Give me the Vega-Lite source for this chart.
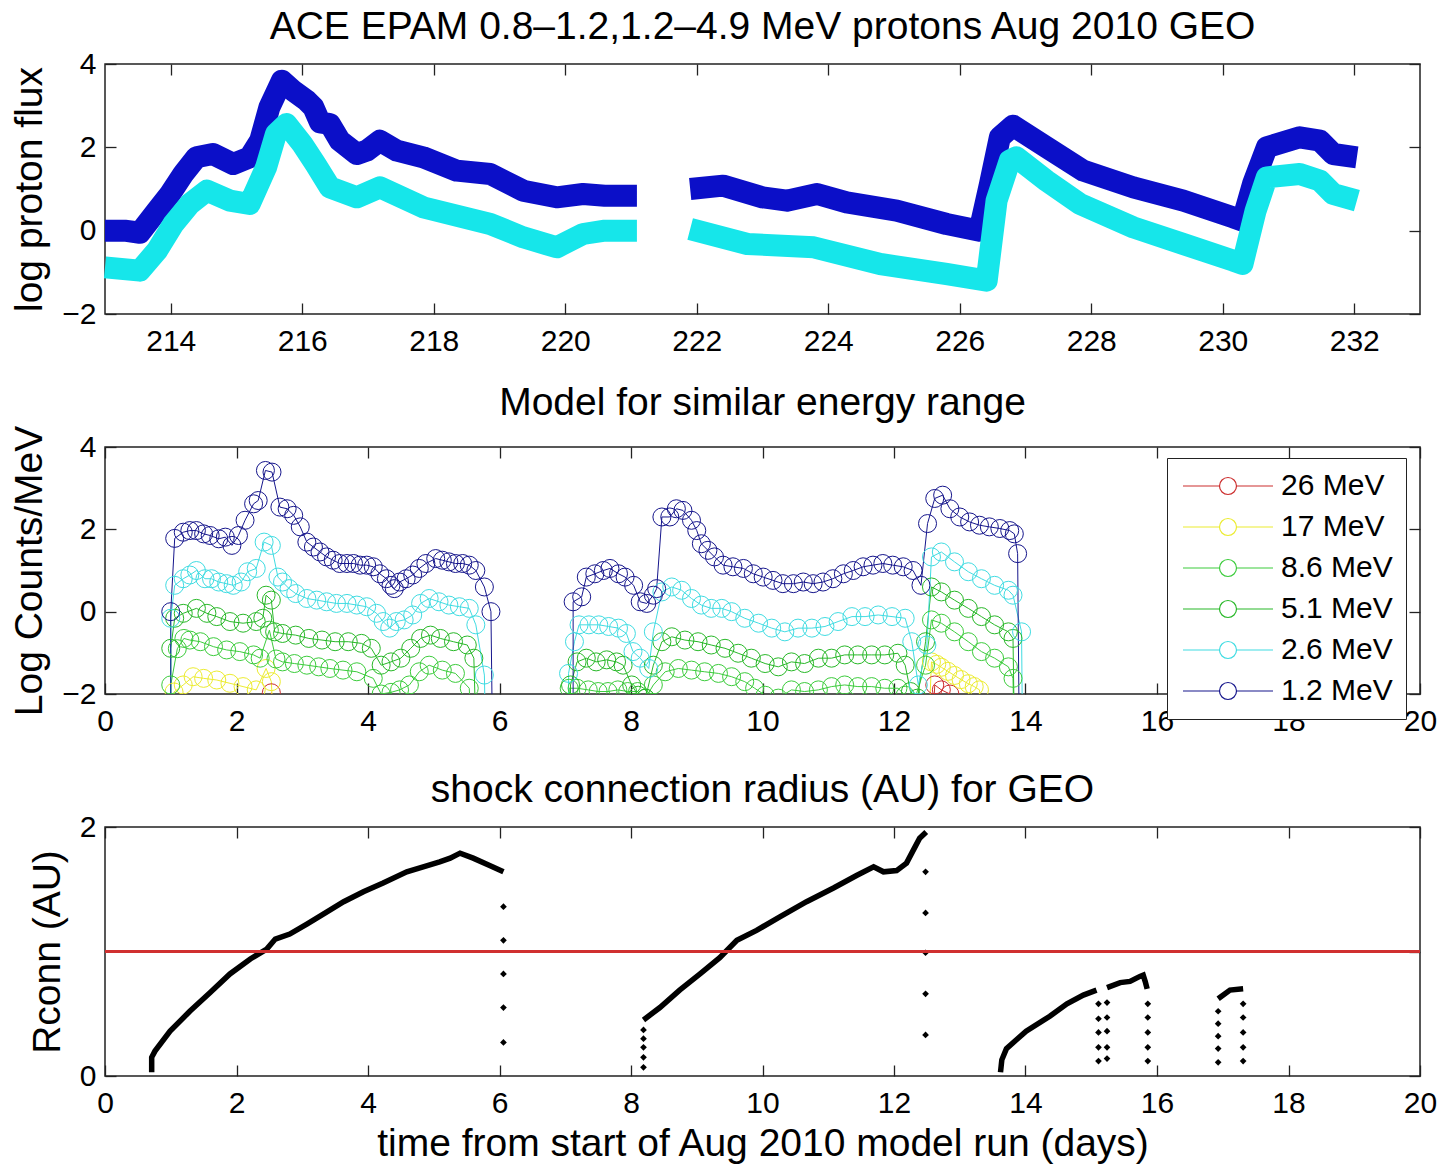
{
"$schema": "https://vega.github.io/schema/vega-lite/v6.json",
"padding": {"left": 10, "top": 7, "right": 5, "bottom": 5},
"background": "white",
"bounds": "flush",
"spacing": 133,
"resolve": {"scale": {"color": "independent"}, "legend": {"color": "independent"}},
"config": {
 "font": "Liberation Sans",
 "view": {"stroke": "#222222", "strokeWidth": 1.5},
 "title": {"fontSize": 39, "fontWeight": "normal", "color": "black", "anchor": "middle", "offset": 2, "font": "Liberation Sans"},
 "axis": {"grid": false, "domain": false, "tickColor": "#222222", "tickSize": -11, "tickWidth": 1.3, "labelFontSize": 30, "labelColor": "black", "titleFontSize": 39, "titleFontWeight": "normal", "titleColor": "black", "labelFlush": false, "labelOverlap": false, "labelFont": "Liberation Sans", "titleFont": "Liberation Sans"},
 "axisX": {"labelPadding": 23},
 "axisY": {"labelPadding": 20, "titlePadding": 12}
},
"datasets": {
 "ace": [
  {"s":"b","g":"b1","t":213.0,"v":0.0},{"s":"b","g":"b1","t":213.3,"v":0.0},{"s":"b","g":"b1","t":213.53,"v":-0.05},{"s":"b","g":"b1","t":213.79,"v":0.48},{"s":"b","g":"b1","t":213.99,"v":0.88},{"s":"b","g":"b1","t":214.19,"v":1.36},{"s":"b","g":"b1","t":214.39,"v":1.76},{"s":"b","g":"b1","t":214.64,"v":1.84},{"s":"b","g":"b1","t":214.95,"v":1.6},{"s":"b","g":"b1","t":215.2,"v":1.76},{"s":"b","g":"b1","t":215.36,"v":2.16},{"s":"b","g":"b1","t":215.5,"v":2.96},{"s":"b","g":"b1","t":215.69,"v":3.6},{"s":"b","g":"b1","t":215.86,"v":3.36},{"s":"b","g":"b1","t":216.07,"v":3.12},{"s":"b","g":"b1","t":216.17,"v":2.96},{"s":"b","g":"b1","t":216.27,"v":2.6},{"s":"b","g":"b1","t":216.42,"v":2.56},{"s":"b","g":"b1","t":216.57,"v":2.16},{"s":"b","g":"b1","t":216.83,"v":1.84},{"s":"b","g":"b1","t":216.98,"v":1.92},{"s":"b","g":"b1","t":217.18,"v":2.16},{"s":"b","g":"b1","t":217.44,"v":1.92},{"s":"b","g":"b1","t":217.84,"v":1.76},{"s":"b","g":"b1","t":218.35,"v":1.44},{"s":"b","g":"b1","t":218.86,"v":1.36},{"s":"b","g":"b1","t":219.36,"v":0.96},{"s":"b","g":"b1","t":219.87,"v":0.8},{"s":"b","g":"b1","t":220.27,"v":0.88},{"s":"b","g":"b1","t":220.6,"v":0.84},{"s":"b","g":"b1","t":221.09,"v":0.84},
  {"s":"b","g":"b2","t":221.9,"v":1.0},{"s":"b","g":"b2","t":222.4,"v":1.08},{"s":"b","g":"b2","t":223.0,"v":0.8},{"s":"b","g":"b2","t":223.37,"v":0.72},{"s":"b","g":"b2","t":223.83,"v":0.88},{"s":"b","g":"b2","t":224.28,"v":0.68},{"s":"b","g":"b2","t":225.04,"v":0.48},{"s":"b","g":"b2","t":225.8,"v":0.16},{"s":"b","g":"b2","t":226.3,"v":0.0},{"s":"b","g":"b2","t":226.46,"v":1.12},{"s":"b","g":"b2","t":226.61,"v":2.24},{"s":"b","g":"b2","t":226.81,"v":2.52},{"s":"b","g":"b2","t":227.32,"v":2.0},{"s":"b","g":"b2","t":227.88,"v":1.44},{"s":"b","g":"b2","t":228.64,"v":1.04},{"s":"b","g":"b2","t":229.4,"v":0.72},{"s":"b","g":"b2","t":230.16,"v":0.32},{"s":"b","g":"b2","t":230.3,"v":0.24},{"s":"b","g":"b2","t":230.46,"v":1.12},{"s":"b","g":"b2","t":230.67,"v":2.0},{"s":"b","g":"b2","t":231.17,"v":2.24},{"s":"b","g":"b2","t":231.48,"v":2.16},{"s":"b","g":"b2","t":231.68,"v":1.84},{"s":"b","g":"b2","t":232.04,"v":1.76},
  {"s":"c","g":"c1","t":213.0,"v":-0.88},{"s":"c","g":"c1","t":213.53,"v":-0.96},{"s":"c","g":"c1","t":213.79,"v":-0.48},{"s":"c","g":"c1","t":214.04,"v":0.16},{"s":"c","g":"c1","t":214.29,"v":0.64},{"s":"c","g":"c1","t":214.55,"v":0.96},{"s":"c","g":"c1","t":214.9,"v":0.72},{"s":"c","g":"c1","t":215.2,"v":0.64},{"s":"c","g":"c1","t":215.45,"v":1.52},{"s":"c","g":"c1","t":215.6,"v":2.32},{"s":"c","g":"c1","t":215.76,"v":2.56},{"s":"c","g":"c1","t":216.0,"v":2.08},{"s":"c","g":"c1","t":216.2,"v":1.6},{"s":"c","g":"c1","t":216.42,"v":1.04},{"s":"c","g":"c1","t":216.83,"v":0.8},{"s":"c","g":"c1","t":217.18,"v":1.04},{"s":"c","g":"c1","t":217.84,"v":0.56},{"s":"c","g":"c1","t":218.86,"v":0.16},{"s":"c","g":"c1","t":219.36,"v":-0.16},{"s":"c","g":"c1","t":219.87,"v":-0.4},{"s":"c","g":"c1","t":220.27,"v":-0.08},{"s":"c","g":"c1","t":220.6,"v":0.0},{"s":"c","g":"c1","t":221.09,"v":0.0},
  {"s":"c","g":"c2","t":221.9,"v":0.04},{"s":"c","g":"c2","t":222.77,"v":-0.32},{"s":"c","g":"c2","t":223.78,"v":-0.4},{"s":"c","g":"c2","t":224.79,"v":-0.8},{"s":"c","g":"c2","t":225.8,"v":-1.04},{"s":"c","g":"c2","t":226.41,"v":-1.2},{"s":"c","g":"c2","t":226.56,"v":0.72},{"s":"c","g":"c2","t":226.76,"v":1.68},{"s":"c","g":"c2","t":226.86,"v":1.76},{"s":"c","g":"c2","t":227.32,"v":1.2},{"s":"c","g":"c2","t":227.83,"v":0.64},{"s":"c","g":"c2","t":228.64,"v":0.08},{"s":"c","g":"c2","t":229.4,"v":-0.32},{"s":"c","g":"c2","t":230.16,"v":-0.72},{"s":"c","g":"c2","t":230.3,"v":-0.8},{"s":"c","g":"c2","t":230.5,"v":0.48},{"s":"c","g":"c2","t":230.67,"v":1.28},{"s":"c","g":"c2","t":231.17,"v":1.36},{"s":"c","g":"c2","t":231.48,"v":1.2},{"s":"c","g":"c2","t":231.68,"v":0.88},{"s":"c","g":"c2","t":232.04,"v":0.72}
 ],
 "model": [
  {"s":"26 MeV","g":"r1","t":2.45,"v":-4},{"s":"26 MeV","g":"r1","t":2.53,"v":-1.97},{"s":"26 MeV","g":"r1","t":2.6,"v":-4},
  {"s":"26 MeV","g":"r3","t":12.55,"v":-4},{"s":"26 MeV","g":"r3","t":12.62,"v":-1.78},{"s":"26 MeV","g":"r3","t":12.72,"v":-1.9},{"s":"26 MeV","g":"r3","t":12.85,"v":-2.0},{"s":"26 MeV","g":"r3","t":12.9,"v":-4},
  {"s":"17 MeV","g":"y1","t":1.0,"v":-4},{"s":"17 MeV","g":"y1","t":1.05,"v":-1.95},{"s":"17 MeV","g":"y1","t":1.19,"v":-1.78},{"s":"17 MeV","g":"y1","t":1.34,"v":-1.58},{"s":"17 MeV","g":"y1","t":1.5,"v":-1.62},{"s":"17 MeV","g":"y1","t":1.7,"v":-1.66},{"s":"17 MeV","g":"y1","t":1.9,"v":-1.74},{"s":"17 MeV","g":"y1","t":2.1,"v":-1.82},{"s":"17 MeV","g":"y1","t":2.3,"v":-1.9},{"s":"17 MeV","g":"y1","t":2.45,"v":-1.38},{"s":"17 MeV","g":"y1","t":2.53,"v":-1.7},{"s":"17 MeV","g":"y1","t":2.6,"v":-4},
  {"s":"17 MeV","g":"y3","t":12.5,"v":-4},{"s":"17 MeV","g":"y3","t":12.57,"v":-1.22},{"s":"17 MeV","g":"y3","t":12.65,"v":-1.28},{"s":"17 MeV","g":"y3","t":12.72,"v":-1.35},{"s":"17 MeV","g":"y3","t":12.82,"v":-1.45},{"s":"17 MeV","g":"y3","t":12.92,"v":-1.55},{"s":"17 MeV","g":"y3","t":13.02,"v":-1.65},{"s":"17 MeV","g":"y3","t":13.13,"v":-1.75},{"s":"17 MeV","g":"y3","t":13.22,"v":-1.82},{"s":"17 MeV","g":"y3","t":13.3,"v":-1.9},{"s":"17 MeV","g":"y3","t":13.4,"v":-4},
  {"s":"8.6 MeV","g":"e1","t":1.0,"v":-4},{"s":"8.6 MeV","g":"e1","t":1.0,"v":-1.78},{"s":"8.6 MeV","g":"e1","t":1.1,"v":-0.9},{"s":"8.6 MeV","g":"e1","t":1.2,"v":-0.65},{"s":"8.6 MeV","g":"e1","t":1.29,"v":-0.69},{"s":"8.6 MeV","g":"e1","t":1.45,"v":-0.73},{"s":"8.6 MeV","g":"e1","t":1.65,"v":-0.85},{"s":"8.6 MeV","g":"e1","t":1.85,"v":-0.93},{"s":"8.6 MeV","g":"e1","t":2.05,"v":-0.97},{"s":"8.6 MeV","g":"e1","t":2.26,"v":-1.05},{"s":"8.6 MeV","g":"e1","t":2.36,"v":-1.13},{"s":"8.6 MeV","g":"e1","t":2.5,"v":-0.45},{"s":"8.6 MeV","g":"e1","t":2.6,"v":-1.15},{"s":"8.6 MeV","g":"e1","t":2.7,"v":-1.22},{"s":"8.6 MeV","g":"e1","t":2.88,"v":-1.26},{"s":"8.6 MeV","g":"e1","t":3.07,"v":-1.3},{"s":"8.6 MeV","g":"e1","t":3.25,"v":-1.34},{"s":"8.6 MeV","g":"e1","t":3.42,"v":-1.38},{"s":"8.6 MeV","g":"e1","t":3.62,"v":-1.42},{"s":"8.6 MeV","g":"e1","t":3.83,"v":-1.46},{"s":"8.6 MeV","g":"e1","t":4.08,"v":-1.62},{"s":"8.6 MeV","g":"e1","t":4.2,"v":-2.0},{"s":"8.6 MeV","g":"e1","t":4.35,"v":-1.96},{"s":"8.6 MeV","g":"e1","t":4.48,"v":-1.9},{"s":"8.6 MeV","g":"e1","t":4.63,"v":-1.78},{"s":"8.6 MeV","g":"e1","t":4.78,"v":-1.46},{"s":"8.6 MeV","g":"e1","t":4.93,"v":-1.3},{"s":"8.6 MeV","g":"e1","t":5.13,"v":-1.42},{"s":"8.6 MeV","g":"e1","t":5.33,"v":-1.5},{"s":"8.6 MeV","g":"e1","t":5.54,"v":-1.86},{"s":"8.6 MeV","g":"e1","t":5.6,"v":-4},
  {"s":"8.6 MeV","g":"e2","t":7.06,"v":-4},{"s":"8.6 MeV","g":"e2","t":7.06,"v":-1.86},{"s":"8.6 MeV","g":"e2","t":7.18,"v":-1.86},{"s":"8.6 MeV","g":"e2","t":7.35,"v":-1.9},{"s":"8.6 MeV","g":"e2","t":7.5,"v":-1.94},{"s":"8.6 MeV","g":"e2","t":7.65,"v":-1.94},{"s":"8.6 MeV","g":"e2","t":7.8,"v":-1.9},{"s":"8.6 MeV","g":"e2","t":7.95,"v":-1.94},{"s":"8.6 MeV","g":"e2","t":8.1,"v":-1.94},{"s":"8.6 MeV","g":"e2","t":8.22,"v":-2.1},{"s":"8.6 MeV","g":"e2","t":8.34,"v":-1.78},{"s":"8.6 MeV","g":"e2","t":8.52,"v":-1.46},{"s":"8.6 MeV","g":"e2","t":8.72,"v":-1.38},{"s":"8.6 MeV","g":"e2","t":8.92,"v":-1.42},{"s":"8.6 MeV","g":"e2","t":9.12,"v":-1.46},{"s":"8.6 MeV","g":"e2","t":9.33,"v":-1.5},{"s":"8.6 MeV","g":"e2","t":9.53,"v":-1.58},{"s":"8.6 MeV","g":"e2","t":9.73,"v":-1.7},{"s":"8.6 MeV","g":"e2","t":9.88,"v":-1.86},{"s":"8.6 MeV","g":"e2","t":10.04,"v":-2.03},{"s":"8.6 MeV","g":"e2","t":10.24,"v":-2.1},{"s":"8.6 MeV","g":"e2","t":10.44,"v":-1.9},{"s":"8.6 MeV","g":"e2","t":10.64,"v":-1.94},{"s":"8.6 MeV","g":"e2","t":10.85,"v":-1.9},{"s":"8.6 MeV","g":"e2","t":11.05,"v":-1.82},{"s":"8.6 MeV","g":"e2","t":11.25,"v":-1.78},{"s":"8.6 MeV","g":"e2","t":11.45,"v":-1.82},{"s":"8.6 MeV","g":"e2","t":11.66,"v":-1.82},{"s":"8.6 MeV","g":"e2","t":11.86,"v":-1.86},{"s":"8.6 MeV","g":"e2","t":12.06,"v":-1.86},{"s":"8.6 MeV","g":"e2","t":12.17,"v":-2.03},{"s":"8.6 MeV","g":"e2","t":12.3,"v":-2.2},{"s":"8.6 MeV","g":"e2","t":12.48,"v":-1.3},{"s":"8.6 MeV","g":"e2","t":12.57,"v":-0.2},{"s":"8.6 MeV","g":"e2","t":12.72,"v":-0.28},{"s":"8.6 MeV","g":"e2","t":12.92,"v":-0.49},{"s":"8.6 MeV","g":"e2","t":13.13,"v":-0.73},{"s":"8.6 MeV","g":"e2","t":13.33,"v":-0.97},{"s":"8.6 MeV","g":"e2","t":13.53,"v":-1.13},{"s":"8.6 MeV","g":"e2","t":13.74,"v":-1.34},{"s":"8.6 MeV","g":"e2","t":13.81,"v":-1.62},{"s":"8.6 MeV","g":"e2","t":13.84,"v":-4},
  {"s":"5.1 MeV","g":"f1","t":1.0,"v":-4},{"s":"5.1 MeV","g":"f1","t":1.0,"v":-0.89},{"s":"5.1 MeV","g":"f1","t":1.06,"v":-0.16},{"s":"5.1 MeV","g":"f1","t":1.19,"v":-0.04},{"s":"5.1 MeV","g":"f1","t":1.39,"v":0.08},{"s":"5.1 MeV","g":"f1","t":1.55,"v":-0.04},{"s":"5.1 MeV","g":"f1","t":1.7,"v":-0.12},{"s":"5.1 MeV","g":"f1","t":1.9,"v":-0.24},{"s":"5.1 MeV","g":"f1","t":2.1,"v":-0.28},{"s":"5.1 MeV","g":"f1","t":2.3,"v":-0.24},{"s":"5.1 MeV","g":"f1","t":2.4,"v":-0.16},{"s":"5.1 MeV","g":"f1","t":2.45,"v":0.4},{"s":"5.1 MeV","g":"f1","t":2.53,"v":0.28},{"s":"5.1 MeV","g":"f1","t":2.58,"v":-0.49},{"s":"5.1 MeV","g":"f1","t":2.7,"v":-0.53},{"s":"5.1 MeV","g":"f1","t":2.9,"v":-0.57},{"s":"5.1 MeV","g":"f1","t":3.1,"v":-0.65},{"s":"5.1 MeV","g":"f1","t":3.3,"v":-0.69},{"s":"5.1 MeV","g":"f1","t":3.5,"v":-0.73},{"s":"5.1 MeV","g":"f1","t":3.7,"v":-0.73},{"s":"5.1 MeV","g":"f1","t":3.9,"v":-0.77},{"s":"5.1 MeV","g":"f1","t":4.05,"v":-0.89},{"s":"5.1 MeV","g":"f1","t":4.2,"v":-1.3},{"s":"5.1 MeV","g":"f1","t":4.35,"v":-1.22},{"s":"5.1 MeV","g":"f1","t":4.5,"v":-1.13},{"s":"5.1 MeV","g":"f1","t":4.65,"v":-0.89},{"s":"5.1 MeV","g":"f1","t":4.8,"v":-0.65},{"s":"5.1 MeV","g":"f1","t":4.95,"v":-0.57},{"s":"5.1 MeV","g":"f1","t":5.1,"v":-0.65},{"s":"5.1 MeV","g":"f1","t":5.3,"v":-0.73},{"s":"5.1 MeV","g":"f1","t":5.51,"v":-0.81},{"s":"5.1 MeV","g":"f1","t":5.61,"v":-1.13},{"s":"5.1 MeV","g":"f1","t":5.66,"v":-4},
  {"s":"5.1 MeV","g":"f2","t":7.08,"v":-4},{"s":"5.1 MeV","g":"f2","t":7.08,"v":-1.78},{"s":"5.1 MeV","g":"f2","t":7.18,"v":-1.22},{"s":"5.1 MeV","g":"f2","t":7.32,"v":-1.13},{"s":"5.1 MeV","g":"f2","t":7.47,"v":-1.22},{"s":"5.1 MeV","g":"f2","t":7.63,"v":-1.17},{"s":"5.1 MeV","g":"f2","t":7.78,"v":-1.22},{"s":"5.1 MeV","g":"f2","t":7.88,"v":-1.3},{"s":"5.1 MeV","g":"f2","t":8.01,"v":-1.78},{"s":"5.1 MeV","g":"f2","t":8.11,"v":-2.03},{"s":"5.1 MeV","g":"f2","t":8.22,"v":-2.1},{"s":"5.1 MeV","g":"f2","t":8.34,"v":-1.3},{"s":"5.1 MeV","g":"f2","t":8.47,"v":-0.73},{"s":"5.1 MeV","g":"f2","t":8.62,"v":-0.61},{"s":"5.1 MeV","g":"f2","t":8.82,"v":-0.69},{"s":"5.1 MeV","g":"f2","t":9.02,"v":-0.73},{"s":"5.1 MeV","g":"f2","t":9.22,"v":-0.81},{"s":"5.1 MeV","g":"f2","t":9.43,"v":-0.89},{"s":"5.1 MeV","g":"f2","t":9.63,"v":-1.01},{"s":"5.1 MeV","g":"f2","t":9.83,"v":-1.13},{"s":"5.1 MeV","g":"f2","t":10.04,"v":-1.26},{"s":"5.1 MeV","g":"f2","t":10.24,"v":-1.34},{"s":"5.1 MeV","g":"f2","t":10.44,"v":-1.22},{"s":"5.1 MeV","g":"f2","t":10.64,"v":-1.26},{"s":"5.1 MeV","g":"f2","t":10.85,"v":-1.13},{"s":"5.1 MeV","g":"f2","t":11.05,"v":-1.13},{"s":"5.1 MeV","g":"f2","t":11.25,"v":-1.05},{"s":"5.1 MeV","g":"f2","t":11.45,"v":-1.05},{"s":"5.1 MeV","g":"f2","t":11.66,"v":-1.05},{"s":"5.1 MeV","g":"f2","t":11.86,"v":-1.05},{"s":"5.1 MeV","g":"f2","t":12.06,"v":-1.01},{"s":"5.1 MeV","g":"f2","t":12.17,"v":-1.3},{"s":"5.1 MeV","g":"f2","t":12.25,"v":-1.94},{"s":"5.1 MeV","g":"f2","t":12.36,"v":-2.1},{"s":"5.1 MeV","g":"f2","t":12.48,"v":-0.73},{"s":"5.1 MeV","g":"f2","t":12.57,"v":0.6},{"s":"5.1 MeV","g":"f2","t":12.72,"v":0.48},{"s":"5.1 MeV","g":"f2","t":12.92,"v":0.28},{"s":"5.1 MeV","g":"f2","t":13.13,"v":0.08},{"s":"5.1 MeV","g":"f2","t":13.33,"v":-0.12},{"s":"5.1 MeV","g":"f2","t":13.53,"v":-0.32},{"s":"5.1 MeV","g":"f2","t":13.74,"v":-0.49},{"s":"5.1 MeV","g":"f2","t":13.81,"v":-0.65},{"s":"5.1 MeV","g":"f2","t":13.84,"v":-4},
  {"s":"2.6 MeV","g":"c1","t":1.0,"v":-4},{"s":"2.6 MeV","g":"c1","t":1.0,"v":-0.16},{"s":"2.6 MeV","g":"c1","t":1.06,"v":0.64},{"s":"2.6 MeV","g":"c1","t":1.19,"v":0.8},{"s":"2.6 MeV","g":"c1","t":1.29,"v":0.89},{"s":"2.6 MeV","g":"c1","t":1.39,"v":1.0},{"s":"2.6 MeV","g":"c1","t":1.52,"v":0.8},{"s":"2.6 MeV","g":"c1","t":1.62,"v":0.8},{"s":"2.6 MeV","g":"c1","t":1.73,"v":0.72},{"s":"2.6 MeV","g":"c1","t":1.85,"v":0.68},{"s":"2.6 MeV","g":"c1","t":1.95,"v":0.64},{"s":"2.6 MeV","g":"c1","t":2.07,"v":0.72},{"s":"2.6 MeV","g":"c1","t":2.17,"v":0.97},{"s":"2.6 MeV","g":"c1","t":2.3,"v":1.05},{"s":"2.6 MeV","g":"c1","t":2.42,"v":1.69},{"s":"2.6 MeV","g":"c1","t":2.53,"v":1.61},{"s":"2.6 MeV","g":"c1","t":2.63,"v":0.84},{"s":"2.6 MeV","g":"c1","t":2.7,"v":0.72},{"s":"2.6 MeV","g":"c1","t":2.8,"v":0.56},{"s":"2.6 MeV","g":"c1","t":2.9,"v":0.44},{"s":"2.6 MeV","g":"c1","t":3.07,"v":0.32},{"s":"2.6 MeV","g":"c1","t":3.22,"v":0.28},{"s":"2.6 MeV","g":"c1","t":3.37,"v":0.24},{"s":"2.6 MeV","g":"c1","t":3.52,"v":0.2},{"s":"2.6 MeV","g":"c1","t":3.68,"v":0.2},{"s":"2.6 MeV","g":"c1","t":3.83,"v":0.16},{"s":"2.6 MeV","g":"c1","t":3.98,"v":0.12},{"s":"2.6 MeV","g":"c1","t":4.13,"v":-0.04},{"s":"2.6 MeV","g":"c1","t":4.23,"v":-0.24},{"s":"2.6 MeV","g":"c1","t":4.33,"v":-0.4},{"s":"2.6 MeV","g":"c1","t":4.43,"v":-0.24},{"s":"2.6 MeV","g":"c1","t":4.55,"v":-0.2},{"s":"2.6 MeV","g":"c1","t":4.68,"v":-0.08},{"s":"2.6 MeV","g":"c1","t":4.8,"v":0.2},{"s":"2.6 MeV","g":"c1","t":4.93,"v":0.32},{"s":"2.6 MeV","g":"c1","t":5.08,"v":0.24},{"s":"2.6 MeV","g":"c1","t":5.23,"v":0.16},{"s":"2.6 MeV","g":"c1","t":5.39,"v":0.12},{"s":"2.6 MeV","g":"c1","t":5.54,"v":0.08},{"s":"2.6 MeV","g":"c1","t":5.64,"v":-0.32},{"s":"2.6 MeV","g":"c1","t":5.77,"v":-1.54},{"s":"2.6 MeV","g":"c1","t":5.8,"v":-4},
  {"s":"2.6 MeV","g":"c2","t":7.05,"v":-4},{"s":"2.6 MeV","g":"c2","t":7.05,"v":-1.5},{"s":"2.6 MeV","g":"c2","t":7.14,"v":-0.73},{"s":"2.6 MeV","g":"c2","t":7.21,"v":-0.32},{"s":"2.6 MeV","g":"c2","t":7.36,"v":-0.32},{"s":"2.6 MeV","g":"c2","t":7.51,"v":-0.32},{"s":"2.6 MeV","g":"c2","t":7.66,"v":-0.36},{"s":"2.6 MeV","g":"c2","t":7.81,"v":-0.4},{"s":"2.6 MeV","g":"c2","t":7.93,"v":-0.53},{"s":"2.6 MeV","g":"c2","t":8.03,"v":-0.97},{"s":"2.6 MeV","g":"c2","t":8.14,"v":-1.13},{"s":"2.6 MeV","g":"c2","t":8.27,"v":-1.38},{"s":"2.6 MeV","g":"c2","t":8.34,"v":-0.49},{"s":"2.6 MeV","g":"c2","t":8.47,"v":0.48},{"s":"2.6 MeV","g":"c2","t":8.62,"v":0.6},{"s":"2.6 MeV","g":"c2","t":8.77,"v":0.52},{"s":"2.6 MeV","g":"c2","t":8.92,"v":0.32},{"s":"2.6 MeV","g":"c2","t":9.07,"v":0.16},{"s":"2.6 MeV","g":"c2","t":9.22,"v":0.08},{"s":"2.6 MeV","g":"c2","t":9.38,"v":0.08},{"s":"2.6 MeV","g":"c2","t":9.53,"v":0.0},{"s":"2.6 MeV","g":"c2","t":9.73,"v":-0.16},{"s":"2.6 MeV","g":"c2","t":9.94,"v":-0.28},{"s":"2.6 MeV","g":"c2","t":10.14,"v":-0.4},{"s":"2.6 MeV","g":"c2","t":10.34,"v":-0.49},{"s":"2.6 MeV","g":"c2","t":10.54,"v":-0.4},{"s":"2.6 MeV","g":"c2","t":10.75,"v":-0.4},{"s":"2.6 MeV","g":"c2","t":10.95,"v":-0.36},{"s":"2.6 MeV","g":"c2","t":11.15,"v":-0.24},{"s":"2.6 MeV","g":"c2","t":11.36,"v":-0.12},{"s":"2.6 MeV","g":"c2","t":11.56,"v":-0.12},{"s":"2.6 MeV","g":"c2","t":11.76,"v":-0.08},{"s":"2.6 MeV","g":"c2","t":11.97,"v":-0.12},{"s":"2.6 MeV","g":"c2","t":12.17,"v":-0.16},{"s":"2.6 MeV","g":"c2","t":12.27,"v":-0.73},{"s":"2.6 MeV","g":"c2","t":12.37,"v":-1.78},{"s":"2.6 MeV","g":"c2","t":12.5,"v":-0.81},{"s":"2.6 MeV","g":"c2","t":12.57,"v":1.33},{"s":"2.6 MeV","g":"c2","t":12.72,"v":1.45},{"s":"2.6 MeV","g":"c2","t":12.92,"v":1.21},{"s":"2.6 MeV","g":"c2","t":13.13,"v":0.97},{"s":"2.6 MeV","g":"c2","t":13.33,"v":0.8},{"s":"2.6 MeV","g":"c2","t":13.53,"v":0.64},{"s":"2.6 MeV","g":"c2","t":13.74,"v":0.52},{"s":"2.6 MeV","g":"c2","t":13.81,"v":0.4},{"s":"2.6 MeV","g":"c2","t":13.94,"v":-0.49},{"s":"2.6 MeV","g":"c2","t":13.96,"v":-4},
  {"s":"1.2 MeV","g":"n1","t":1.0,"v":-4},{"s":"1.2 MeV","g":"n1","t":1.0,"v":0.0},{"s":"1.2 MeV","g":"n1","t":1.06,"v":1.78},{"s":"1.2 MeV","g":"n1","t":1.19,"v":1.93},{"s":"1.2 MeV","g":"n1","t":1.29,"v":1.97},{"s":"1.2 MeV","g":"n1","t":1.39,"v":1.97},{"s":"1.2 MeV","g":"n1","t":1.5,"v":1.89},{"s":"1.2 MeV","g":"n1","t":1.6,"v":1.85},{"s":"1.2 MeV","g":"n1","t":1.73,"v":1.77},{"s":"1.2 MeV","g":"n1","t":1.83,"v":1.81},{"s":"1.2 MeV","g":"n1","t":1.93,"v":1.61},{"s":"1.2 MeV","g":"n1","t":2.03,"v":1.85},{"s":"1.2 MeV","g":"n1","t":2.13,"v":2.22},{"s":"1.2 MeV","g":"n1","t":2.26,"v":2.62},{"s":"1.2 MeV","g":"n1","t":2.33,"v":2.7},{"s":"1.2 MeV","g":"n1","t":2.44,"v":3.43},{"s":"1.2 MeV","g":"n1","t":2.54,"v":3.39},{"s":"1.2 MeV","g":"n1","t":2.66,"v":2.54},{"s":"1.2 MeV","g":"n1","t":2.77,"v":2.5},{"s":"1.2 MeV","g":"n1","t":2.87,"v":2.34},{"s":"1.2 MeV","g":"n1","t":2.97,"v":2.06},{"s":"1.2 MeV","g":"n1","t":3.07,"v":1.69},{"s":"1.2 MeV","g":"n1","t":3.17,"v":1.57},{"s":"1.2 MeV","g":"n1","t":3.27,"v":1.45},{"s":"1.2 MeV","g":"n1","t":3.37,"v":1.33},{"s":"1.2 MeV","g":"n1","t":3.47,"v":1.25},{"s":"1.2 MeV","g":"n1","t":3.57,"v":1.17},{"s":"1.2 MeV","g":"n1","t":3.68,"v":1.17},{"s":"1.2 MeV","g":"n1","t":3.78,"v":1.17},{"s":"1.2 MeV","g":"n1","t":3.88,"v":1.13},{"s":"1.2 MeV","g":"n1","t":3.98,"v":1.13},{"s":"1.2 MeV","g":"n1","t":4.08,"v":1.09},{"s":"1.2 MeV","g":"n1","t":4.18,"v":0.92},{"s":"1.2 MeV","g":"n1","t":4.28,"v":0.8},{"s":"1.2 MeV","g":"n1","t":4.35,"v":0.64},{"s":"1.2 MeV","g":"n1","t":4.4,"v":0.56},{"s":"1.2 MeV","g":"n1","t":4.48,"v":0.72},{"s":"1.2 MeV","g":"n1","t":4.58,"v":0.8},{"s":"1.2 MeV","g":"n1","t":4.68,"v":0.89},{"s":"1.2 MeV","g":"n1","t":4.78,"v":1.05},{"s":"1.2 MeV","g":"n1","t":4.88,"v":1.17},{"s":"1.2 MeV","g":"n1","t":5.03,"v":1.29},{"s":"1.2 MeV","g":"n1","t":5.13,"v":1.25},{"s":"1.2 MeV","g":"n1","t":5.23,"v":1.21},{"s":"1.2 MeV","g":"n1","t":5.33,"v":1.17},{"s":"1.2 MeV","g":"n1","t":5.44,"v":1.17},{"s":"1.2 MeV","g":"n1","t":5.54,"v":1.13},{"s":"1.2 MeV","g":"n1","t":5.64,"v":1.0},{"s":"1.2 MeV","g":"n1","t":5.77,"v":0.6},{"s":"1.2 MeV","g":"n1","t":5.87,"v":0.0},{"s":"1.2 MeV","g":"n1","t":5.9,"v":-4},
  {"s":"1.2 MeV","g":"n2","t":7.12,"v":-4},{"s":"1.2 MeV","g":"n2","t":7.12,"v":0.24},{"s":"1.2 MeV","g":"n2","t":7.25,"v":0.36},{"s":"1.2 MeV","g":"n2","t":7.32,"v":0.84},{"s":"1.2 MeV","g":"n2","t":7.45,"v":0.92},{"s":"1.2 MeV","g":"n2","t":7.58,"v":1.0},{"s":"1.2 MeV","g":"n2","t":7.68,"v":1.05},{"s":"1.2 MeV","g":"n2","t":7.81,"v":0.92},{"s":"1.2 MeV","g":"n2","t":7.91,"v":0.84},{"s":"1.2 MeV","g":"n2","t":8.04,"v":0.64},{"s":"1.2 MeV","g":"n2","t":8.14,"v":0.24},{"s":"1.2 MeV","g":"n2","t":8.24,"v":0.2},{"s":"1.2 MeV","g":"n2","t":8.34,"v":0.4},{"s":"1.2 MeV","g":"n2","t":8.39,"v":0.56},{"s":"1.2 MeV","g":"n2","t":8.47,"v":2.3},{"s":"1.2 MeV","g":"n2","t":8.59,"v":2.3},{"s":"1.2 MeV","g":"n2","t":8.69,"v":2.5},{"s":"1.2 MeV","g":"n2","t":8.79,"v":2.46},{"s":"1.2 MeV","g":"n2","t":8.92,"v":2.22},{"s":"1.2 MeV","g":"n2","t":9.0,"v":1.97},{"s":"1.2 MeV","g":"n2","t":9.07,"v":1.65},{"s":"1.2 MeV","g":"n2","t":9.17,"v":1.49},{"s":"1.2 MeV","g":"n2","t":9.27,"v":1.33},{"s":"1.2 MeV","g":"n2","t":9.4,"v":1.13},{"s":"1.2 MeV","g":"n2","t":9.55,"v":1.09},{"s":"1.2 MeV","g":"n2","t":9.71,"v":1.05},{"s":"1.2 MeV","g":"n2","t":9.86,"v":0.92},{"s":"1.2 MeV","g":"n2","t":10.01,"v":0.84},{"s":"1.2 MeV","g":"n2","t":10.16,"v":0.76},{"s":"1.2 MeV","g":"n2","t":10.31,"v":0.68},{"s":"1.2 MeV","g":"n2","t":10.47,"v":0.68},{"s":"1.2 MeV","g":"n2","t":10.62,"v":0.72},{"s":"1.2 MeV","g":"n2","t":10.77,"v":0.68},{"s":"1.2 MeV","g":"n2","t":10.92,"v":0.72},{"s":"1.2 MeV","g":"n2","t":11.07,"v":0.8},{"s":"1.2 MeV","g":"n2","t":11.23,"v":0.92},{"s":"1.2 MeV","g":"n2","t":11.38,"v":1.0},{"s":"1.2 MeV","g":"n2","t":11.53,"v":1.09},{"s":"1.2 MeV","g":"n2","t":11.68,"v":1.13},{"s":"1.2 MeV","g":"n2","t":11.83,"v":1.17},{"s":"1.2 MeV","g":"n2","t":11.98,"v":1.13},{"s":"1.2 MeV","g":"n2","t":12.14,"v":1.09},{"s":"1.2 MeV","g":"n2","t":12.29,"v":1.0},{"s":"1.2 MeV","g":"n2","t":12.41,"v":0.64},{"s":"1.2 MeV","g":"n2","t":12.51,"v":2.14},{"s":"1.2 MeV","g":"n2","t":12.62,"v":2.75},{"s":"1.2 MeV","g":"n2","t":12.74,"v":2.83},{"s":"1.2 MeV","g":"n2","t":12.85,"v":2.5},{"s":"1.2 MeV","g":"n2","t":13.0,"v":2.3},{"s":"1.2 MeV","g":"n2","t":13.15,"v":2.18},{"s":"1.2 MeV","g":"n2","t":13.3,"v":2.1},{"s":"1.2 MeV","g":"n2","t":13.45,"v":2.06},{"s":"1.2 MeV","g":"n2","t":13.61,"v":2.02},{"s":"1.2 MeV","g":"n2","t":13.76,"v":1.97},{"s":"1.2 MeV","g":"n2","t":13.83,"v":1.89},{"s":"1.2 MeV","g":"n2","t":13.88,"v":1.41},{"s":"1.2 MeV","g":"n2","t":13.91,"v":-4}
 ],
 "rc": [
  {"g":1,"t":0.71,"v":0.03},{"g":1,"t":0.71,"v":0.1},{"g":1,"t":0.71,"v":0.15},{"g":1,"t":0.76,"v":0.2},{"g":1,"t":0.99,"v":0.36},{"g":1,"t":1.29,"v":0.52},{"g":1,"t":1.6,"v":0.67},{"g":1,"t":1.9,"v":0.82},{"g":1,"t":2.21,"v":0.94},{"g":1,"t":2.46,"v":1.02},{"g":1,"t":2.59,"v":1.1},{"g":1,"t":2.81,"v":1.14},{"g":1,"t":3.07,"v":1.22},{"g":1,"t":3.32,"v":1.3},{"g":1,"t":3.63,"v":1.4},{"g":1,"t":3.93,"v":1.48},{"g":1,"t":4.23,"v":1.55},{"g":1,"t":4.59,"v":1.64},{"g":1,"t":4.84,"v":1.68},{"g":1,"t":5.09,"v":1.72},{"g":1,"t":5.25,"v":1.75},{"g":1,"t":5.4,"v":1.79},{"g":1,"t":5.6,"v":1.75},{"g":1,"t":5.85,"v":1.69},{"g":1,"t":6.06,"v":1.64},
  {"g":2,"t":8.19,"v":0.45},{"g":2,"t":8.44,"v":0.55},{"g":2,"t":8.74,"v":0.69},{"g":2,"t":9.05,"v":0.82},{"g":2,"t":9.35,"v":0.95},{"g":2,"t":9.61,"v":1.09},{"g":2,"t":9.91,"v":1.17},{"g":2,"t":10.27,"v":1.28},{"g":2,"t":10.67,"v":1.4},{"g":2,"t":11.08,"v":1.51},{"g":2,"t":11.43,"v":1.61},{"g":2,"t":11.69,"v":1.68},{"g":2,"t":11.84,"v":1.64},{"g":2,"t":12.04,"v":1.65},{"g":2,"t":12.19,"v":1.71},{"g":2,"t":12.29,"v":1.81},{"g":2,"t":12.39,"v":1.91},{"g":2,"t":12.49,"v":1.96},
  {"g":3,"t":13.62,"v":0.03},{"g":3,"t":13.63,"v":0.08},{"g":3,"t":13.64,"v":0.13},{"g":3,"t":13.71,"v":0.22},{"g":3,"t":14.01,"v":0.36},{"g":3,"t":14.37,"v":0.48},{"g":3,"t":14.63,"v":0.58},{"g":3,"t":14.88,"v":0.65},{"g":3,"t":15.08,"v":0.69},
  {"g":4,"t":15.24,"v":0.71},{"g":4,"t":15.44,"v":0.75},{"g":4,"t":15.59,"v":0.76},{"g":4,"t":15.74,"v":0.8},{"g":4,"t":15.79,"v":0.81},{"g":4,"t":15.82,"v":0.76},{"g":4,"t":15.85,"v":0.7},
  {"g":5,"t":16.93,"v":0.62},{"g":5,"t":17.11,"v":0.69},{"g":5,"t":17.31,"v":0.7}
 ],
 "rd": [
  {"t":6.06,"v":1.36},{"t":6.06,"v":1.09},{"t":6.06,"v":0.82},{"t":6.06,"v":0.55},{"t":6.06,"v":0.27},
  {"t":8.19,"v":0.37},{"t":8.19,"v":0.3},{"t":8.19,"v":0.23},{"t":8.19,"v":0.15},{"t":8.19,"v":0.07},
  {"t":12.48,"v":1.64},{"t":12.48,"v":1.31},{"t":12.48,"v":0.99},{"t":12.48,"v":0.66},{"t":12.48,"v":0.33},
  {"t":15.11,"v":0.58},{"t":15.11,"v":0.46},{"t":15.11,"v":0.35},{"t":15.11,"v":0.23},{"t":15.11,"v":0.12},
  {"t":15.24,"v":0.59},{"t":15.24,"v":0.47},{"t":15.24,"v":0.36},{"t":15.24,"v":0.23},{"t":15.24,"v":0.14},
  {"t":15.86,"v":0.58},{"t":15.86,"v":0.47},{"t":15.86,"v":0.35},{"t":15.86,"v":0.23},{"t":15.86,"v":0.12},
  {"t":16.93,"v":0.52},{"t":16.93,"v":0.42},{"t":16.93,"v":0.32},{"t":16.93,"v":0.22},{"t":16.93,"v":0.11},
  {"t":17.31,"v":0.58},{"t":17.31,"v":0.47},{"t":17.31,"v":0.35},{"t":17.31,"v":0.23},{"t":17.31,"v":0.12}
 ]
},
"vconcat": [
 {
  "width": 1315, "height": 250,
  "title": {"text": "ACE EPAM 0.8–1.2,1.2–4.9 MeV protons Aug 2010 GEO"},
  "data": {"name": "ace"},
  "layer": [
   {"mark": {"type": "line", "strokeWidth": 22, "strokeJoin": "round", "strokeCap": "butt", "clip": false},
    "encoding": {
     "x": {"field": "t", "type": "quantitative", "scale": {"domain": [213, 233], "nice": false, "zero": false}, "axis": {"values": [214,216,218,220,222,224,226,228,230,232], "title": null}},
     "y": {"field": "v", "type": "quantitative", "scale": {"domain": [-2, 4], "nice": false}, "axis": {"values": [-2,0,2,4], "title": "log proton flux"}},
     "color": {"field": "s", "type": "nominal", "scale": {"domain": ["b","c"], "range": ["#0b0fc8","#16e6ea"]}, "legend": null},
     "detail": {"field": "g"}
    }},
   {"mark": {"type": "point", "opacity": 0},
    "encoding": {
     "x": {"field": "t", "type": "quantitative", "scale": {"domain": [213, 233], "nice": false, "zero": false}, "axis": {"orient": "top", "values": [214,216,218,220,222,224,226,228,230,232], "labels": false, "title": null}},
     "y": {"field": "v", "type": "quantitative", "scale": {"domain": [-2, 4], "nice": false}, "axis": {"orient": "right", "values": [-2,0,2,4], "labels": false, "title": null}}
    }}
  ],
  "resolve": {"axis": {"x": "independent", "y": "independent"}}
 },
 {
  "width": 1315, "height": 247,
  "title": {"text": "Model for similar energy range"},
  "data": {"name": "model"},
  "layer": [
   {"mark": {"type": "line", "strokeWidth": 1, "clip": true},
    "encoding": {
     "x": {"field": "t", "type": "quantitative", "scale": {"domain": [0, 20], "nice": false}, "axis": {"values": [0,2,4,6,8,10,12,14,16,18,20], "title": null}},
     "y": {"field": "v", "type": "quantitative", "scale": {"domain": [-2, 4], "nice": false}, "axis": {"values": [-2,0,2,4], "title": "Log Counts/MeV"}},
     "color": {"field": "s", "type": "nominal",
       "scale": {"domain": ["26 MeV","17 MeV","8.6 MeV","5.1 MeV","2.6 MeV","1.2 MeV"], "range": ["#cc2e2e","#ecec30","#3ccc3c","#28b828","#40dce2","#16168c"]},
       "legend": {"title": null, "orient": "none", "legendX": 1062, "legendY": 11, "fillColor": "white", "strokeColor": "#222222", "padding": 13, "rowPadding": 11, "labelFontSize": 30, "labelFont": "Liberation Sans", "labelColor": "black", "symbolType": "M-5.3,0H-1M1,0H5.3M1,0C1,0.5523,0.5523,1,0,1C-0.5523,1,-1,0.5523,-1,0C-1,-0.5523,-0.5523,-1,0,-1C0.5523,-1,1,-0.5523,1,0Z", "symbolSize": 289, "symbolStrokeWidth": 1.2, "symbolFillColor": "transparent", "symbolOffset": 33, "labelOffset": 38}},
     "detail": {"field": "g"}
    }},
   {"mark": {"type": "point", "filled": false, "size": 324, "strokeWidth": 1, "opacity": 1, "clip": true},
    "encoding": {
     "x": {"field": "t", "type": "quantitative", "scale": {"domain": [0, 20], "nice": false}, "axis": null},
     "y": {"field": "v", "type": "quantitative", "scale": {"domain": [-2, 4], "nice": false}, "axis": null},
     "color": {"field": "s", "type": "nominal"}
    }},
   {"mark": {"type": "point", "opacity": 0},
    "encoding": {
     "x": {"field": "t", "type": "quantitative", "scale": {"domain": [0, 20], "nice": false}, "axis": {"orient": "top", "values": [0,2,4,6,8,10,12,14,16,18,20], "labels": false, "title": null}},
     "y": {"field": "v", "type": "quantitative", "scale": {"domain": [-2, 4], "nice": false}, "axis": {"orient": "right", "values": [-2,0,2,4], "labels": false, "title": null}}
    }}
  ],
  "resolve": {"axis": {"x": "independent", "y": "independent"}}
 },
 {
  "width": 1315, "height": 249,
  "title": {"text": "shock connection radius (AU) for GEO"},
  "layer": [
   {"data": {"name": "rc"},
    "mark": {"type": "line", "strokeWidth": 5.5, "color": "black", "clip": true},
    "encoding": {
     "x": {"field": "t", "type": "quantitative", "scale": {"domain": [0, 20], "nice": false}, "axis": {"values": [0,2,4,6,8,10,12,14,16,18,20], "title": "time from start of Aug 2010 model run (days)", "titlePadding": 6}},
     "y": {"field": "v", "type": "quantitative", "scale": {"domain": [0, 2], "nice": false}, "axis": {"values": [0,1,2], "format": "d", "title": "Rconn (AU)"}},
     "detail": {"field": "g"}
    }},
   {"data": {"name": "rd"},
    "mark": {"type": "point", "shape": "diamond", "filled": true, "size": 45, "color": "black", "opacity": 1},
    "encoding": {
     "x": {"field": "t", "type": "quantitative", "axis": null},
     "y": {"field": "v", "type": "quantitative", "axis": null}
    }},
   {"data": {"name": "rc"},
    "mark": {"type": "rule", "color": "#d03030", "strokeWidth": 1.5},
    "encoding": {"y": {"datum": 1, "type": "quantitative", "axis": null}}},
   {"data": {"name": "rc"},
    "mark": {"type": "point", "opacity": 0},
    "encoding": {
     "x": {"field": "t", "type": "quantitative", "scale": {"domain": [0, 20], "nice": false}, "axis": {"orient": "top", "values": [0,2,4,6,8,10,12,14,16,18,20], "labels": false, "title": null}},
     "y": {"field": "v", "type": "quantitative", "scale": {"domain": [0, 2], "nice": false}, "axis": {"orient": "right", "values": [0,1,2], "labels": false, "title": null}}
    }}
  ],
  "resolve": {"axis": {"x": "independent", "y": "independent"}}
 }
]
}
